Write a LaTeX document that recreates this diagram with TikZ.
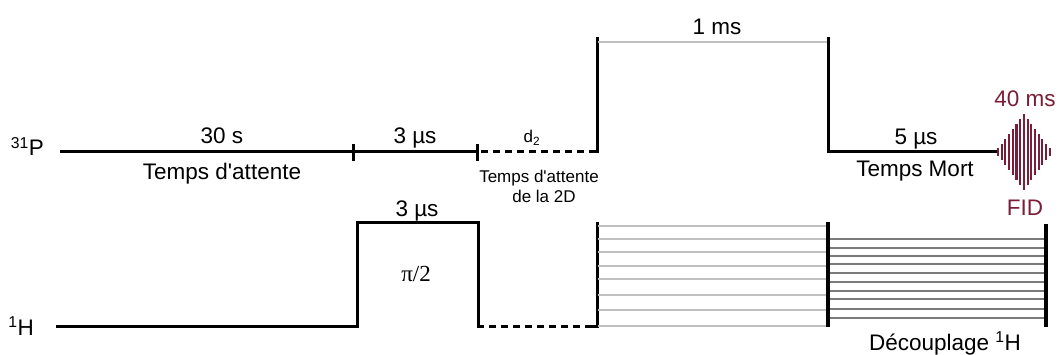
\documentclass[tikz,border=0pt]{standalone}
\usepackage{fontspec}
\setmainfont{Liberation Sans}
\newfontfamily\serifpi{Liberation Serif}
\definecolor{fidred}{RGB}{122,30,55}
\definecolor{lgray}{RGB}{192,192,192}
\definecolor{dgray}{RGB}{122,122,122}
\begin{document}
\begin{tikzpicture}[x=1pt,y=-1pt,
  seq/.style={line width=3pt},
  thickv/.style={line width=3.6pt},
  dashline/.style={line width=3pt, dash pattern=on 7pt off 5pt},
  lbl/.style={font=\fontsize{22.5}{24}\selectfont, inner sep=0pt, anchor=base},
  slbl/.style={font=\fontsize{17}{18}\selectfont, inner sep=0pt, anchor=base},
  hatchl/.style={lgray, line width=2.6pt},
  hatchd/.style={dgray, line width=2.8pt},
  fidline/.style={fidred, line width=2.1pt}]
\useasboundingbox (0,0) rectangle (1059,355);

% ---------- 31P channel ----------
\node[lbl, anchor=base east] (P) at (44,156) {\textsuperscript{31}P};
\draw[seq] (60,152) -- (477,152);
\draw[seq] (353,144) -- (353,161);
\draw[seq] (477,144) -- (477,161);
\draw[dashline] (481,152) -- (590,152);
\draw[seq] (589,152) -- (597,152) -- (597,37);
\draw[hatchl] (598,42) -- (827,42);
\draw[seq] (828,37) -- (828,152) -- (998,152);
% FID
\foreach \i in {0,...,14} {
  \pgfmathsetmacro\xx{998+3.7*\i}
  \pgfmathsetmacro\hh{max(4,38*(1-abs(\xx-1023.9)/28))}
  \draw[fidline] (\xx,{152-\hh}) -- (\xx,{152+\hh});
}

\node[lbl] (t30) at (222,144) {30 s};
\node[lbl] (ta) at (222,180) {Temps d\textquotesingle attente};
\node[lbl] (t3a) at (415,144) {3 µs};
\node[slbl] (d2) at (532,143) {d\textsubscript{2}};
\node[slbl] (ta2a) at (539,183) {Temps d\textquotesingle attente};
\node[slbl] (ta2b) at (544,203) {de la 2D};
\node[lbl] (t1ms) at (717,35) {1 ms};
\node[lbl] (t5) at (916,145) {5 µs};
\node[lbl] (tm) at (915,177) {Temps Mort};
\node[lbl, text=fidred] (t40) at (1025,107) {40 ms};
\node[lbl, text=fidred] (fid) at (1025,216) {FID};

% ---------- 1H channel ----------
\node[lbl, anchor=base east] (H) at (34,335) {\textsuperscript{1}H};
\draw[seq] (56,326) -- (357,326) -- (357,223) -- (478,223) -- (478,326) -- (484,326);
\draw[dashline] (489,326) -- (590,326);
\draw[seq] (589,326) -- (597,326) -- (597,222);
\node[lbl] (t3b) at (417,217) {3 µs};
\node[lbl, font=\serifpi\fontsize{23}{24}\selectfont] (pi) at (416,281) {π/2};

\foreach \y in {226,239,252,266,279,295,310,326}
  \draw[hatchl] (598,\y) -- (827,\y);
\foreach \y in {239,248,256,264,273,282,291,299,309,318}
  \draw[hatchd] (829,\y) -- (1045,\y);
\draw[thickv] (828,222) -- (828,327);
\draw[thickv] (1046,224) -- (1046,327);
\node[lbl] (dec) at (945,350) {Découplage \textsuperscript{1}H};
\end{tikzpicture}
\end{document}
